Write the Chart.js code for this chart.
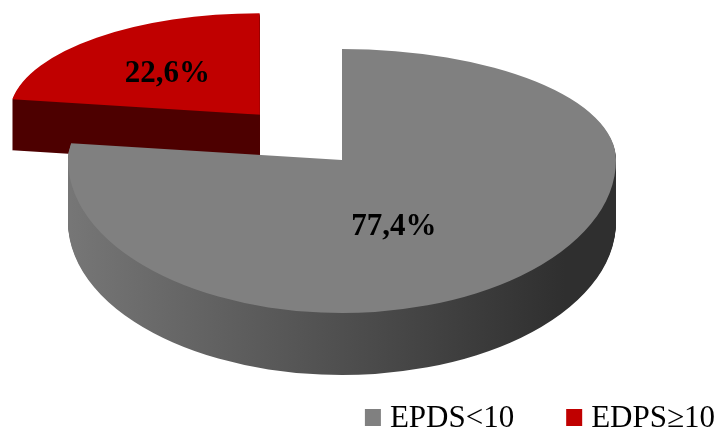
<!DOCTYPE html>
<html>
<head>
<meta charset="utf-8">
<script src="https://cdn.jsdelivr.net/npm/chart.js@4/dist/chart.umd.min.js"></script>
<style>
  html, body { margin: 0; padding: 0; background: #ffffff; overflow: hidden; }
  #wrap { width: 722px; height: 428px; position: relative; }
</style>
</head>
<body>
<div id="wrap"><canvas id="c" width="722" height="428"></canvas></div>
<script>
// ---- data ----
const categories = ['EPDS<10', 'EDPS\u226510'];
const percentages = [77.4, 22.6];

// ---- styles ----
const topColors = ['#808080', '#C00000'];
const sideColors = [['#767676', '#2f2f2f'], ['#4d0000', '#4d0000']];
const explode = [0, 184];
const labelFactor = [0.29, 0.57];

// projection of the flat pie into the tilted 3-D view
const VIEW = { ax: 342, ay: 160, rx: 274, ryBack: 111, ryFront: 153, ryOffBack: 130,
  depth: 62, persp: 0.0020, gx0: 70, gx1: 565 };

function fmt(v) { return v.toFixed(1).replace('.', ',') + '%'; }

function drawShape(ctx, chart, it, d, fill) {
  const arc = it.arc;
  const saved = arc.options;
  arc.options = Object.assign({}, saved, { backgroundColor: fill, borderWidth: 0 });
  const cy = it.Sy + d;
  [[it.syB, -10000, cy], [it.syF, cy, 10000]].forEach(([sy, y0, y1]) => {
    ctx.save();
    ctx.beginPath();
    ctx.rect(0, y0, chart.width, y1 - y0);
    ctx.clip();
    ctx.translate(it.Sx, cy);
    ctx.scale(it.sx, sy);
    ctx.translate(-it.px, -it.py);
    arc.draw(ctx);
    ctx.restore();
  });
  arc.options = saved;
}

function buildItems(chart) {
  const meta = chart.getDatasetMeta(0);
  return meta.data.map((arc, i) => {
    const R0 = arc.outerRadius;
    const h = (arc.startAngle + arc.endAngle) / 2;
    const off = (arc.options.offset || 0) / 4;
    const px = arc.x + Math.cos(h) * off;
    const py = arc.y + Math.sin(h) * off;
    const sx = VIEW.rx / R0, syB = VIEW.ryBack / R0, syF = VIEW.ryFront / R0;
    const dx = px - arc.x, dy = py - arc.y;
    const Sx = VIEW.ax + dx * sx;
    const Sy = VIEW.ay + dy * (dy < 0 ? VIEW.ryOffBack / R0 : syF);
    const p = 1 + (Sy - VIEW.ay) * VIEW.persp;
    return { arc, i, h, px, py, Sx, Sy, p, R0,
      sx: sx * p, syB: syB * p, syF: syF * p, depth: VIEW.depth * p * p };
  });
}

const pie3d = {
  id: 'pie3d',
  beforeDatasetsDraw(chart) {
    const ctx = chart.ctx;
    const items = buildItems(chart).sort((a, b) => a.Sy - b.Sy);
    items.forEach(it => {
      const sc = sideColors[it.i];
      const lx0 = it.arc.x + (VIEW.gx0 - it.Sx) / it.sx;
      const lx1 = it.arc.x + (VIEW.gx1 - it.Sx) / it.sx;
      const g = ctx.createLinearGradient(lx0, 0, lx1, 0);
      g.addColorStop(0, sc[0]);
      g.addColorStop(1, sc[1]);
      for (let d = Math.round(it.depth); d >= 1; d--) {
        drawShape(ctx, chart, it, d, g);
      }
      drawShape(ctx, chart, it, 0, topColors[it.i]);
    });
    // value labels
    ctx.save();
    ctx.font = 'bold 31px "Liberation Serif", "Times New Roman", serif';
    ctx.fillStyle = '#000000';
    ctx.textAlign = 'center';
    ctx.textBaseline = 'alphabetic';
    buildItems(chart).forEach(it => {
      const f = labelFactor[it.i];
      const c = Math.cos(it.h), s = Math.sin(it.h);
      const lx = it.Sx + c * f * it.R0 * it.sx;
      const ly = it.Sy + s * f * it.R0 * (s < 0 ? it.syB : it.syF) + (s > 0 ? it.depth / 2 : 0);
      ctx.fillText(fmt(percentages[it.i]), lx, ly + 10.5);
    });
    ctx.restore();
    return false;
  },
  afterDraw(chart) {
    const ctx = chart.ctx;
    ctx.save();
    ctx.font = '31px "Liberation Serif", "Times New Roman", serif';
    ctx.textBaseline = 'alphabetic';
    ctx.textAlign = 'left';
    const box = 16, boxH = 17, gapBox = 9, gapItem = 52, right = 715, base = 427;
    const widths = categories.map(t => ctx.measureText(t).width);
    let total = 0;
    widths.forEach((w, i) => { total += box + gapBox + w + (i < widths.length - 1 ? gapItem : 0); });
    let x = right - total;
    categories.forEach((t, i) => {
      ctx.fillStyle = topColors[i];
      ctx.fillRect(x, base - 18, box, boxH);
      x += box + gapBox;
      ctx.fillStyle = '#000000';
      ctx.fillText(t, x, base);
      x += widths[i] + gapItem;
    });
    ctx.restore();
  }
};

new Chart(document.getElementById('c').getContext('2d'), {
  type: 'pie',
  data: {
    labels: categories,
    datasets: [{
      data: percentages,
      backgroundColor: topColors,
      borderWidth: 0,
      offset: explode,
      radius: 100
    }]
  },
  options: {
    responsive: false,
    animation: false,
    events: [],
    layout: { padding: 0 },
    plugins: { legend: { display: false }, tooltip: { enabled: false } }
  },
  plugins: [pie3d]
});
</script>
</body>
</html>
